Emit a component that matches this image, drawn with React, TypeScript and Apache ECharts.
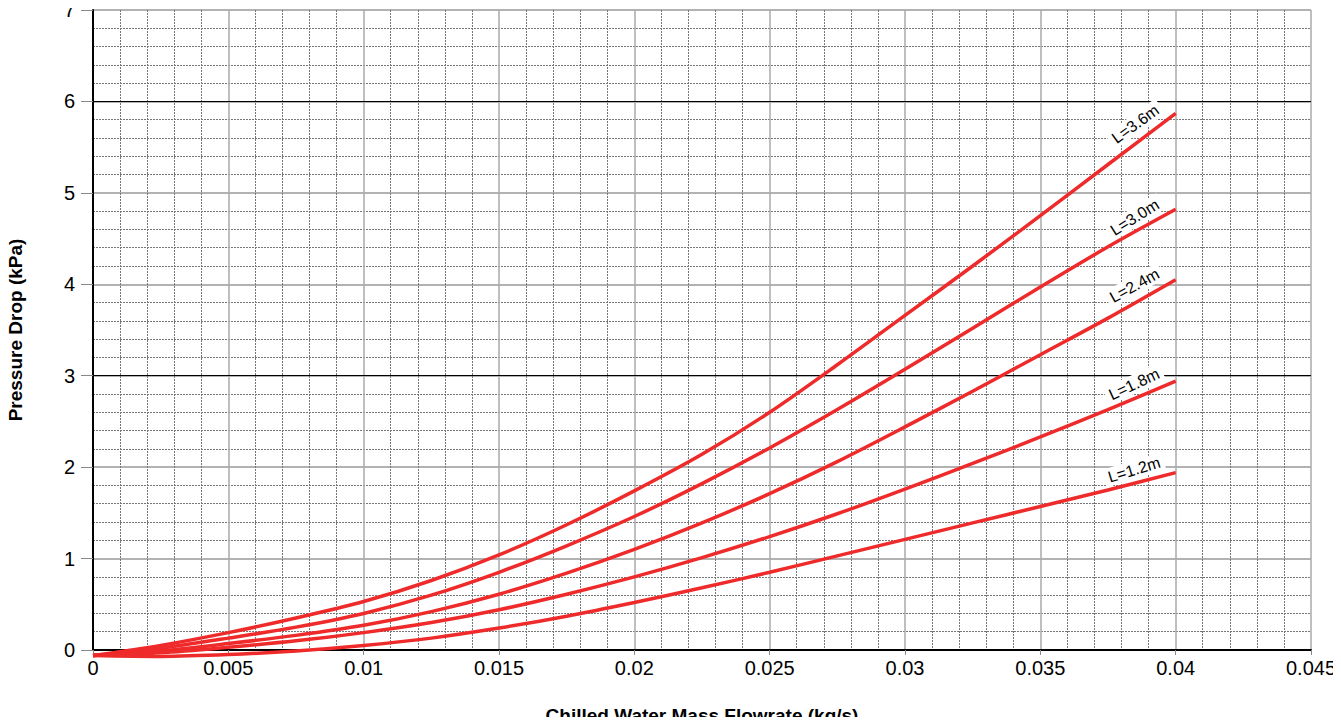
import React, { useEffect, useRef } from "react";
import * as echarts from "echarts";

const xValues = [0, 0.0025, 0.005, 0.0075, 0.01, 0.0125, 0.015, 0.0175, 0.02, 0.0225, 0.025, 0.0275, 0.03, 0.0325, 0.035, 0.0375, 0.04];
const seriesNames = ["L=3.6m", "L=3.0m", "L=2.4m", "L=1.8m", "L=1.2m"];
const L36 = [-0.06, 0.05, 0.19, 0.35, 0.53, 0.76, 1.04, 1.37, 1.74, 2.14, 2.6, 3.12, 3.66, 4.2, 4.75, 5.31, 5.87];
const L30 = [-0.06, 0.02, 0.13, 0.25, 0.4, 0.6, 0.85, 1.14, 1.46, 1.82, 2.21, 2.63, 3.07, 3.52, 3.97, 4.41, 4.82];
const L24 = [-0.06, -0.01, 0.07, 0.16, 0.27, 0.42, 0.61, 0.84, 1.1, 1.39, 1.71, 2.06, 2.44, 2.83, 3.23, 3.63, 4.05];
const L18 = [-0.06, -0.03, 0.03, 0.1, 0.19, 0.3, 0.44, 0.61, 0.8, 1.01, 1.24, 1.49, 1.76, 2.04, 2.33, 2.63, 2.94];
const L12 = [-0.06, -0.07, -0.05, -0.01, 0.05, 0.13, 0.24, 0.37, 0.52, 0.68, 0.85, 1.03, 1.21, 1.39, 1.57, 1.75, 1.94];
const labelAngles = [36, 32, 29, 25, 17];
const blackLines = [3, 6];

export default function App() {
  const ref = useRef<HTMLDivElement>(null);
  useEffect(() => {
    if (!ref.current) return;
    const chart = echarts.init(ref.current, null, { renderer: "svg" });
    const all = [L36, L30, L24, L18, L12];
    const series: any[] = all.map((vals, si) => ({
      type: "line",
      name: seriesNames[si],
      smooth: 0.3,
      clip: false,
      showSymbol: true,
      symbol: "circle",
      symbolSize: 1,
      itemStyle: { color: "rgba(0,0,0,0)" },
      lineStyle: { color: "#ee2a2a", width: 3.5 },
      z: 5,
      data: vals.map((v, i) => {
        const item: any = { value: [xValues[i], v] };
        if (i === vals.length - 1) {
          item.label = {
            show: true,
            formatter: seriesNames[si],
            position: "inside",
            align: "right",
            verticalAlign: "bottom",
            rotate: labelAngles[si],
            offset: [-8, -6],
            backgroundColor: "#ffffff",
            padding: [1, 4],
            color: "#000",
            fontSize: 16,
            fontFamily: "Liberation Sans, Arial, sans-serif",
          };
        }
        return item;
      }),
    }));
    series.push({
      type: "line",
      data: [],
      silent: true,
      markLine: {
        silent: true,
        symbol: "none",
        label: { show: false },
        lineStyle: { color: "#000", width: 1, type: "solid" },
        data: blackLines.map((y) => ({ yAxis: y })),
      },
      z: 1,
    });
    chart.setOption({
      animation: false,
      textStyle: { fontFamily: "Liberation Sans, Arial, sans-serif" },
      grid: { left: 93, right: 30, top: 10, bottom: 75, containLabel: false, outerBoundsMode: "none" },
      xAxis: {
        type: "value",
        min: 0,
        max: 0.045,
        interval: 0.005,
        name: "Chilled Water Mass Flowrate (kg/s)",
        nameLocation: "middle",
        nameGap: 56,
        nameTextStyle: { fontSize: 19, fontWeight: "bold", color: "#000" },
        axisLine: { show: true, lineStyle: { color: "#000", width: 2 } },
        axisTick: { show: true, length: 5, lineStyle: { color: "#888" } },
        axisLabel: { fontSize: 20, color: "#000", margin: 8 },
        splitLine: { show: true, lineStyle: { color: "#aaa", width: 1.5 } },
        minorTick: { show: false, splitNumber: 5 },
        minorSplitLine: { show: true, lineStyle: { color: "#777", width: 1, type: [2, 1] } },
      },
      yAxis: {
        type: "value",
        min: 0,
        max: 7,
        interval: 1,
        name: "Pressure Drop (kPa)",
        nameLocation: "middle",
        nameGap: 68,
        nameTextStyle: { fontSize: 19, fontWeight: "bold", color: "#000" },
        axisLine: { show: true, lineStyle: { color: "#000", width: 2 } },
        axisTick: { show: true, length: 12, lineStyle: { color: "#888" } },
        axisLabel: { fontSize: 20, color: "#000", margin: 18 },
        splitLine: { show: true, lineStyle: { color: "#999", width: 1.5 } },
        minorTick: { show: false, splitNumber: 5 },
        minorSplitLine: { show: true, lineStyle: { color: "#777", width: 1, type: [2, 1] } },
      },
      series,
    });
    return () => chart.dispose();
  }, []);
  return <div ref={ref} style={{ width: 1341, height: 725, margin: -8 }} />;
}
